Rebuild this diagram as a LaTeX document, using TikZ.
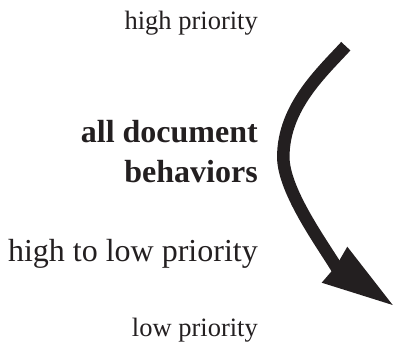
\documentclass[tikz,border=0pt]{standalone}
\usepackage{fontspec}
\setmainfont{Liberation Serif}
\definecolor{ink}{HTML}{231F20}
\tikzset{
  small/.style={anchor=base east,inner sep=0pt,text=ink,font=\fontsize{26.5bp}{31bp}\selectfont},
  big/.style={anchor=base east,inner sep=0pt,text=ink,font=\fontsize{32bp}{38bp}\selectfont},
  bigbold/.style={big,font=\fontsize{32bp}{38bp}\selectfont\bfseries},
  shaft/.style={draw=ink,line width=12.5bp},
  head/.style={fill=ink}
}
\begin{document}
\begin{tikzpicture}[x=1bp,y=-1bp]
\useasboundingbox (0,0) rectangle (393,345);
\node[small] (hp) at (258,29.3) {high priority};
\node[bigbold] (all) at (258,142) {all document};
\node[bigbold] (beh) at (258,182) {behaviors};
\node[big] (hl) at (258,261.5) {high to low priority};
\node[small] (lp) at (258,336) {low priority};
\coordinate (s) at (345.8,46.2);
\coordinate (l) at (283.3,157);
\coordinate (e) at (338,270);
\coordinate (h1) at (347.3,246.7);
\coordinate (h2) at (321.7,282.7);
\coordinate (hb) at (336.2,265.9);
\coordinate (t) at (392.7,305);
\draw[shaft] (s) .. controls (322.1,72) and (283.3,107) .. (l)
  .. controls (283.3,192) and (325.5,248.35) .. (e);
\path[head] (h1) -- (t) -- (h2) -- (hb) -- cycle;
\end{tikzpicture}
\end{document}
